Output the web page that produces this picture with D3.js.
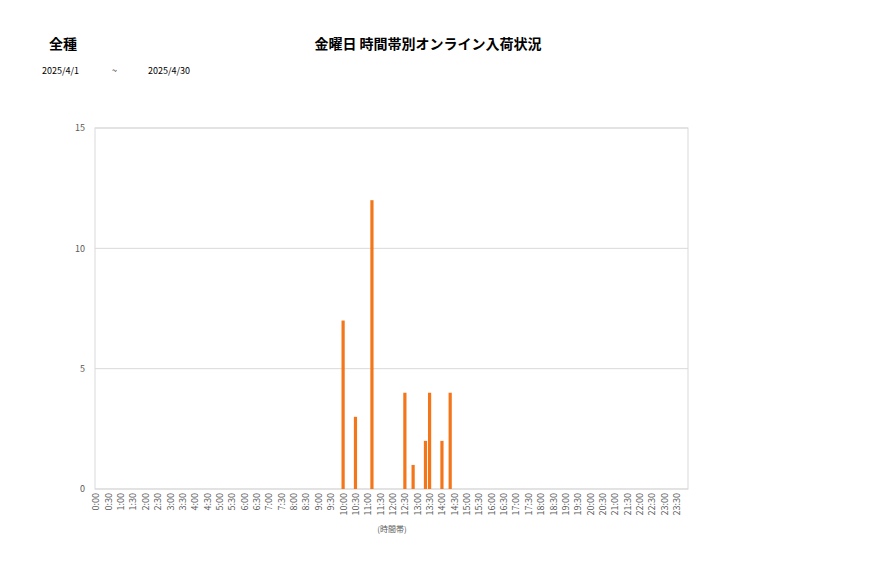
<!DOCTYPE html>
<html>
<head>
<meta charset="utf-8">
<script src="https://cdn.jsdelivr.net/npm/d3@7"></script>
<style>
  body { margin: 0; background: #fff; }
  text { font-family: "Noto Sans CJK JP", "Noto Sans", sans-serif; }
</style>
</head>
<body>
<svg class="chart" width="877" height="578"></svg>
<script>
'use strict'

// 入荷時刻と件数
const times = ["10:00", "10:30", "11:10", "12:30", "12:50", "13:20", "13:30", "14:00", "14:20"]
const counts = [7, 3, 12, 4, 1, 2, 4, 2, 4]

const tickLabels = [
    "0:00", "0:30", "1:00", "1:30", "2:00", "2:30", "3:00", "3:30",
    "4:00", "4:30", "5:00", "5:30", "6:00", "6:30", "7:00", "7:30",
    "8:00", "8:30", "9:00", "9:30", "10:00", "10:30", "11:00", "11:30",
    "12:00", "12:30", "13:00", "13:30", "14:00", "14:30", "15:00", "15:30",
    "16:00", "16:30", "17:00", "17:30", "18:00", "18:30", "19:00", "19:30",
    "20:00", "20:30", "21:00", "21:30", "22:00", "22:30", "23:00", "23:30"
]
const yTicks = [0, 5, 10, 15]

function toMinutes(s) {
    const p = s.split(":")
    return +p[0] * 60 + +p[1]
}

const svg = d3.select('.chart')

let plotL = 95, plotR = 688, plotT = 128, plotB = 489

// 枠の中央に置く
let scaleX = d3.scaleLinear()
    .domain([-2.5, 1437.5])
    .range([plotL, plotR])

let scaleY = d3.scaleLinear()
    .domain([0, 15])
    .range([plotB, plotT])

// 目盛り線
svg.append("g")
    .selectAll("line")
    .data(yTicks)
    .join("line")
    .attr("x1", plotL).attr("x2", plotR)
    .attr("y1", d => scaleY(d)).attr("y2", d => scaleY(d))
    .style("stroke", "#d9d9d9").style("stroke-width", 1)

// 枠
svg.append("rect")
    .attr("x", plotL).attr("y", plotT)
    .attr("width", plotR - plotL).attr("height", plotB - plotT)
    .style("fill", "none").style("stroke", "#d9d9d9").style("stroke-width", 1)

// 縦軸ラベル
let axisY = d3.axisLeft(scaleY).tickValues(yTicks).tickSize(0).tickPadding(10)
svg.append("g")
    .attr("transform", `translate(${plotL}, 0)`)
    .call(axisY)
    .call(g => g.select(".domain").remove())
    .selectAll("text")
    .style("font-size", "9px").style("fill", "#595959")

// 横軸ラベル
let axisX = d3.axisBottom(scaleX)
    .tickValues(tickLabels.map(toMinutes))
    .tickFormat((d, i) => tickLabels[i])
    .tickSize(0)
svg.append("g")
    .attr("transform", `translate(0, ${plotB})`)
    .call(axisX)
    .call(g => g.select(".domain").remove())
    .selectAll("text")
    .attr("transform", "rotate(-90)")
    .attr("x", -4).attr("y", 0).attr("dy", "0.32em")
    .style("text-anchor", "end")
    .style("font-size", "9px").style("fill", "#595959")

// 棒
svg.append("g")
    .selectAll("rect")
    .data(times.map((t, i) => ({t: toMinutes(t), v: counts[i]})))
    .join("rect")
    .attr("x", d => scaleX(d.t) - 1.6)
    .attr("width", 3.2)
    .attr("y", d => scaleY(d.v))
    .attr("height", d => scaleY(0) - scaleY(d.v))
    .style("fill", "#f3761b")

// 文字
svg.append("text").attr("x", 392).attr("y", 532)
    .attr("text-anchor", "middle")
    .style("font-size", "8px").style("fill", "#595959")
    .text("(時間帯)")

svg.append("text").attr("x", 428).attr("y", 49)
    .attr("text-anchor", "middle")
    .style("font-size", "14px").style("font-weight", "bold")
    .text("金曜日 時間帯別オンライン入荷状況")

svg.append("text").attr("x", 63).attr("y", 49)
    .attr("text-anchor", "middle")
    .style("font-size", "14px").style("font-weight", "bold")
    .text("全種")

svg.append("text").attr("x", 42).attr("y", 74)
    .style("font-size", "9px").text("2025/4/1")
svg.append("text").attr("x", 112).attr("y", 74)
    .style("font-size", "9px").text("~")
svg.append("text").attr("x", 148).attr("y", 74)
    .style("font-size", "9px").text("2025/4/30")
</script>
</body>
</html>
